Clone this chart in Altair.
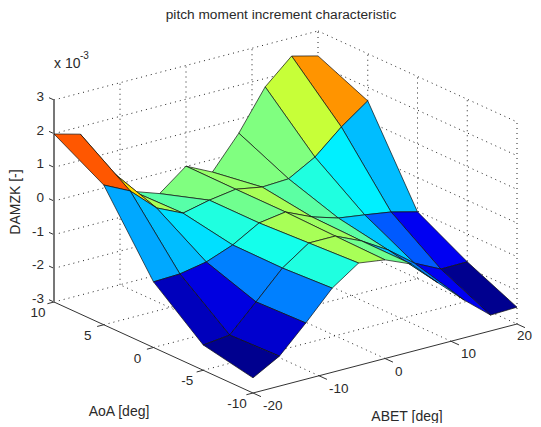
import altair as alt

# grid
abet = [-20, -16, -12, -8, -4, 0, 4, 8, 12, 16, 20]
aoa = [10, 5, 0, -5, -10]

# DAMZK x 1e3, one row per AoA, one column per ABET
z_aoa_p10 = [1.99, 1.78, 0.59, -0.33, -0.60, 0.01, -0.37, 0.58, 1.75, 2.46, 2.26]
z_aoa_p05 = [1.15, 0.77, 0.06, -0.30, -0.12, 0.00, -0.14, -0.10, 0.34, 1.03, 1.60]
z_aoa_000 = [-1.05, -1.02, -0.87, -0.57, -0.12, 0.00, -0.35, -0.59, -0.70, -0.82, -1.02]
z_aoa_m05 = [-2.25, -2.16, -1.38, -0.58, -0.04, -0.04, -0.39, -0.86, -1.46, -1.84, -1.83]
z_aoa_m10 = [-2.55, -2.11, -1.33, -0.50, 0.04, -0.07, -0.40, -1.16, -1.88, -2.53, -2.50]
z_rows = [z_aoa_p10, z_aoa_p05, z_aoa_000, z_aoa_m05, z_aoa_m10]

# face colour levels on the jet map, one row per AoA strip, one column per ABET strip
c_strip_1 = [0.79, 0.66, 0.54, 0.46, 0.50, 0.522, 0.50, 0.50, 0.57, 0.73]
c_strip_2 = [0.29, 0.31, 0.345, 0.405, 0.485, 0.54, 0.465, 0.405, 0.36, 0.31]
c_strip_3 = [0.05, 0.09, 0.25, 0.395, 0.54, 0.53, 0.465, 0.32, 0.213, 0.11]
c_strip_4 = [0.0, 0.07, 0.25, 0.405, 0.54, 0.485, 0.32, 0.25, 0.11, 0.0]
c_rows = [c_strip_1, c_strip_2, c_strip_3, c_strip_4]

jet_stops = [0, 0.125, 0.375, 0.625, 0.875, 1]
jet_colors = ["#00008f", "#0000ff", "#00ffff", "#ffff00", "#ff0000", "#800000"]

z_ticks = [3, 2, 1, 0, -1, -2, -3]
aoa_ticks = [10, 5, 0, -5, -10]
abet_ticks = [-20, -10, 0, 10, 20]


def project(b, a, z):
    """Orthographic view of (ABET, AoA, DAMZK) onto the plot area."""
    x = 245 + (b + 20) * 6.6 - (a + 10) * 9.95
    y = 385 - (b + 20) * 1.725 - (a + 10) * 4.55 - (z + 3) * 33.67
    return x, y


# surface, far faces first
features = []
for i in range(len(aoa) - 1):
    for j in range(len(abet) - 2, -1, -1):
        corners = [(i, j), (i, j + 1), (i + 1, j + 1), (i + 1, j), (i, j)]
        ring = [list(project(abet[c], aoa[r], z_rows[r][c])) for r, c in corners]
        features.append({
            "type": "Feature",
            "geometry": {"type": "Polygon", "coordinates": [ring]},
            "properties": {"level": c_rows[i][j]},
        })


def seg(b0, a0, z0, b1, a1, z1):
    x0, y0 = project(b0, a0, z0)
    x1, y1 = project(b1, a1, z1)
    return {"x0": x0, "y0": y0, "x1": x1, "y1": y1}


grid = []
for z in z_ticks:
    grid.append(seg(-20, 10, z, 20, 10, z))
    grid.append(seg(20, 10, z, 20, -10, z))
for b in [-10, 0, 10, 20]:
    grid.append(seg(b, 10, -3, b, 10, 3))
for a in [5, 0, -5, -10]:
    grid.append(seg(20, a, -3, 20, a, 3))
for b in [-10, 0, 10]:
    grid.append(seg(b, -10, -3, b, 10, -3))
for a in [5, 0, -5]:
    grid.append(seg(-20, a, -3, 20, a, -3))

axes = [seg(-20, 10, -3, -20, -10, -3), seg(-20, -10, -3, 20, -10, -3)]
for z in z_ticks:
    axes.append(seg(-20, 10, z, -20, 10.5, z))
for a in aoa_ticks:
    axes.append(seg(-20, a, -3, -21, a, -3))
for b in abet_ticks:
    axes.append(seg(b, -10, -3, b, -10.8, -3))
z_axis = [seg(-20, 10, -3, -20, 10, 3)]

z_labels = [dict(zip(("x", "y"), project(-20, 10, z)), t=str(z)) for z in z_ticks]
aoa_labels = [dict(zip(("x", "y"), project(-20, a, -3)), t=str(a)) for a in aoa_ticks]
abet_labels = [dict(zip(("x", "y"), project(b, -10, -3)), t=str(b)) for b in abet_ticks]

FONT = "Liberation Sans"
INK = "#2a2a2a"


def rules(rows, **kw):
    return alt.Chart(alt.Data(values=rows)).mark_rule(**kw).encode(
        longitude="x0:Q", latitude="y0:Q", longitude2="x1:Q", latitude2="y1:Q"
    ).project(type="identity", scale=1, translate=[0, 0])


def texts(rows, **kw):
    return alt.Chart(alt.Data(values=rows)).mark_text(font=FONT, color=INK, **kw).encode(
        longitude="x:Q", latitude="y:Q", text="t:N"
    ).project(type="identity", scale=1, translate=[0, 0])


surface = alt.Chart(alt.Data(values=features)).mark_geoshape(
    stroke="#101010", strokeWidth=0.7
).encode(
    color=alt.Color(
        "properties.level:Q",
        scale=alt.Scale(domain=jet_stops, range=jet_colors, interpolate="rgb"),
        legend=None,
    )
).project(type="identity", scale=1, translate=[0, 0])

chart = alt.layer(
    rules(grid, color="#222222", strokeWidth=1, strokeDash=[1, 4]),
    rules(axes, color="#333333", strokeWidth=1),
    rules(z_axis, color="#777777", strokeWidth=2),
    surface,
    texts(z_labels, fontSize=13.5, align="right", baseline="middle", dx=-10, dy=-3),
    texts(aoa_labels, fontSize=13.5, align="center", baseline="middle", dx=-16, dy=11),
    texts(abet_labels[:-1], fontSize=13.5, align="left", baseline="middle", dx=10, dy=13),
    texts(abet_labels[-1:], fontSize=13.5, align="right", baseline="middle", dx=15, dy=12),
    texts([{"x": 8, "y": 194, "t": "DAMZK [-]"}], fontSize=14, align="center", baseline="middle", angle=270),
    texts([{"x": 273, "y": 7, "t": "pitch moment increment characteristic"}], fontSize=13.7, align="center", baseline="middle"),
    texts([{"x": 46, "y": 56, "t": "x 10"}], fontSize=14, align="left", baseline="middle"),
    texts([{"x": 72, "y": 48, "t": "-3"}], fontSize=10, align="left", baseline="middle"),
    texts([{"x": 111, "y": 404, "t": "AoA [deg]"}, {"x": 399, "y": 409, "t": "ABET [deg]"}], fontSize=14, align="center", baseline="middle"),
).properties(
    width=525, height=415, padding=0, autosize=alt.AutoSizeParams(type="none")
).configure_view(stroke=None)

chart.save("out.html", embed_options={"renderer": "svg", "actions": False})
